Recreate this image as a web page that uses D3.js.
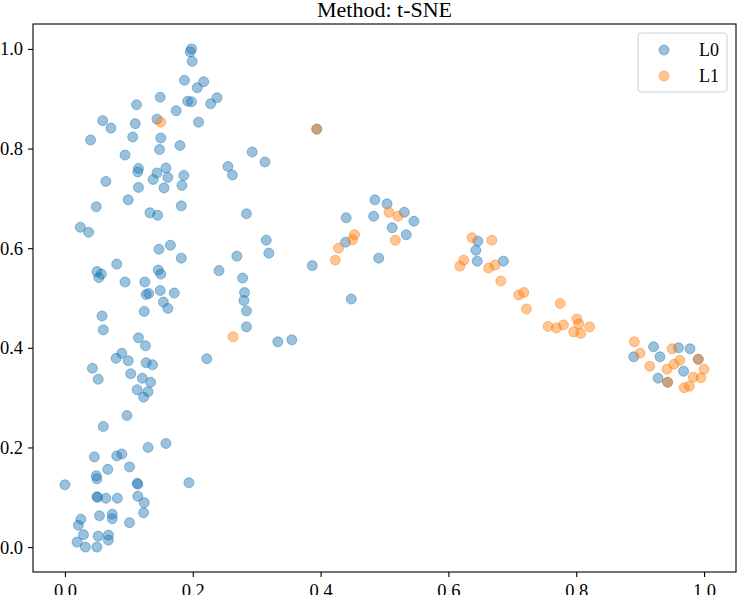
<!DOCTYPE html>
<html>
<head>
<meta charset="utf-8">
<script src="https://cdn.jsdelivr.net/npm/d3@7"></script>
<style>
  body { margin: 0; background: #fff; }
  svg { font-family: "Liberation Serif", "DejaVu Serif", serif; }
</style>
</head>
<body>
<div id="chart"></div>
<script>
// series L0 (blue) as [x, y]
const l0 = [
  [0.198, 1.000], [0.196, 0.994], [0.199, 0.975], [0.187, 0.937], [0.217, 0.934],
  [0.207, 0.922], [0.149, 0.903], [0.238, 0.902], [0.228, 0.890], [0.112, 0.888],
  [0.192, 0.895], [0.198, 0.894], [0.174, 0.876], [0.059, 0.856], [0.072, 0.841],
  [0.110, 0.850], [0.144, 0.859], [0.209, 0.853], [0.040, 0.817], [0.106, 0.823],
  [0.150, 0.821], [0.180, 0.806], [0.148, 0.798], [0.094, 0.787], [0.293, 0.793],
  [0.255, 0.764], [0.262, 0.747], [0.115, 0.760], [0.114, 0.753], [0.158, 0.761],
  [0.144, 0.751], [0.138, 0.738], [0.161, 0.742], [0.186, 0.746], [0.183, 0.726],
  [0.155, 0.721], [0.115, 0.722], [0.064, 0.734], [0.099, 0.697], [0.049, 0.683],
  [0.182, 0.685], [0.133, 0.671], [0.145, 0.666], [0.284, 0.669], [0.024, 0.642],
  [0.037, 0.632], [0.147, 0.598], [0.165, 0.606], [0.182, 0.580], [0.269, 0.584],
  [0.081, 0.568], [0.241, 0.555], [0.050, 0.553], [0.057, 0.548], [0.053, 0.541],
  [0.146, 0.556], [0.150, 0.548], [0.094, 0.532], [0.125, 0.532], [0.278, 0.540],
  [0.149, 0.515], [0.171, 0.510], [0.131, 0.509], [0.127, 0.507], [0.281, 0.511],
  [0.280, 0.495], [0.154, 0.492], [0.161, 0.479], [0.124, 0.473], [0.284, 0.474],
  [0.058, 0.464], [0.060, 0.436], [0.284, 0.442], [0.115, 0.420], [0.126, 0.404],
  [0.222, 0.378], [0.089, 0.389], [0.080, 0.379], [0.099, 0.374], [0.127, 0.370],
  [0.137, 0.366], [0.043, 0.359], [0.052, 0.337], [0.103, 0.348], [0.121, 0.339],
  [0.134, 0.331], [0.113, 0.316], [0.130, 0.312], [0.123, 0.301], [0.097, 0.264],
  [0.060, 0.242], [0.158, 0.208], [0.130, 0.200], [0.046, 0.181], [0.081, 0.183],
  [0.089, 0.187], [0.067, 0.156], [0.101, 0.161], [0.049, 0.143], [0.050, 0.137],
  [0.000, 0.125], [0.113, 0.128], [0.114, 0.126], [0.194, 0.129], [0.050, 0.101],
  [0.051, 0.100], [0.064, 0.098], [0.082, 0.098], [0.114, 0.102], [0.124, 0.089],
  [0.123, 0.069], [0.025, 0.056], [0.021, 0.044], [0.054, 0.063], [0.074, 0.066],
  [0.074, 0.057], [0.101, 0.049], [0.029, 0.025], [0.052, 0.022], [0.068, 0.024],
  [0.068, 0.014], [0.019, 0.010], [0.032, 0.000], [0.050, 0.000], [0.313, 0.773],
  [0.394, 0.839], [0.485, 0.697], [0.504, 0.689], [0.531, 0.672], [0.440, 0.661],
  [0.483, 0.664], [0.546, 0.654], [0.512, 0.641], [0.534, 0.627], [0.315, 0.616],
  [0.319, 0.590], [0.439, 0.612], [0.387, 0.565], [0.491, 0.580], [0.448, 0.498],
  [0.333, 0.412], [0.355, 0.416], [0.646, 0.614], [0.643, 0.596], [0.645, 0.574],
  [0.686, 0.574], [0.890, 0.382], [0.921, 0.402], [0.931, 0.382], [0.960, 0.400],
  [0.978, 0.398], [0.991, 0.377], [0.968, 0.353], [0.928, 0.339], [0.943, 0.331]
];

// series L1 (orange) as [x, y]
const l1 = [
  [0.150, 0.853], [0.394, 0.839], [0.263, 0.422], [0.507, 0.672], [0.521, 0.664],
  [0.453, 0.627], [0.450, 0.617], [0.517, 0.616], [0.428, 0.600], [0.423, 0.576],
  [0.637, 0.621], [0.668, 0.616], [0.624, 0.576], [0.618, 0.564], [0.663, 0.560],
  [0.673, 0.566], [0.682, 0.534], [0.710, 0.506], [0.718, 0.511], [0.722, 0.478],
  [0.775, 0.489], [0.756, 0.443], [0.769, 0.440], [0.780, 0.446], [0.801, 0.458],
  [0.804, 0.448], [0.796, 0.432], [0.807, 0.429], [0.821, 0.442], [0.891, 0.412],
  [0.900, 0.389], [0.950, 0.398], [0.962, 0.375], [0.991, 0.377], [0.915, 0.363],
  [0.942, 0.357], [0.953, 0.367], [1.000, 0.357], [0.983, 0.341], [0.995, 0.340],
  [0.943, 0.331], [0.969, 0.320], [0.977, 0.323]
];

const seriesNames = ["L0", "L1"];
const seriesColors = ["#1f77b4", "#ff7f0e"];
const xTicks = [0.0, 0.2, 0.4, 0.6, 0.8, 1.0];
const yTicks = [0.0, 0.2, 0.4, 0.6, 0.8, 1.0];
const title = "Method: t-SNE";

const width = 738, height = 595;
const margin = { top: 24, right: 2, bottom: 23, left: 33 };

const svg = d3.select("#chart").append("svg")
    .attr("width", width)
    .attr("height", height);

// matplotlib-like 5% padding around the data
const pad = 0.05 * 1.0;
let x = d3.scaleLinear()
    .domain([0 - pad, 1 + pad])
    .range([margin.left, width - margin.right]);
let y = d3.scaleLinear()
    .domain([0 - pad, 1 + pad])
    .range([height - margin.bottom, margin.top]);

const fmt = d3.format(".1f");

let gX = svg.append("g")
    .attr("transform", "translate(0," + (height - margin.bottom) + ")")
    .call(d3.axisBottom(x).tickValues(xTicks).tickFormat(fmt).tickSize(5).tickPadding(7));

let gY = svg.append("g")
    .attr("transform", "translate(" + margin.left + ",0)")
    .call(d3.axisLeft(y).tickValues(yTicks).tickFormat(fmt).tickSize(5).tickPadding(5));

[gX, gY].forEach(function (g) {
    g.select(".domain").remove();
    g.selectAll(".tick line").attr("stroke", "#000").attr("stroke-width", 1.1);
    g.selectAll(".tick text")
        .attr("fill", "#000")
        .style("font-family", "'Liberation Serif', serif")
        .style("font-size", "18.5px");
});

//draw the dots
const series = [l0, l1];
series.forEach(function (data, i) {
    svg.append("g")
        .selectAll("circle")
        .data(data)
        .enter().append("circle")
        .attr("cx", function (d) { return x(d[0]); })
        .attr("cy", function (d) { return y(d[1]); })
        .attr("r", 5)
        .attr("fill", seriesColors[i])
        .attr("fill-opacity", 0.45)
        .attr("stroke", seriesColors[i])
        .attr("stroke-opacity", 0.45)
        .attr("stroke-width", 1);
});

// frame
svg.append("rect")
    .attr("x", margin.left)
    .attr("y", margin.top)
    .attr("width", width - margin.left - margin.right)
    .attr("height", height - margin.top - margin.bottom)
    .attr("fill", "none")
    .attr("stroke", "#000")
    .attr("stroke-width", 1.1);

svg.append("text")
    .attr("x", (margin.left + width - margin.right) / 2)
    .attr("y", 17)
    .attr("text-anchor", "middle")
    .style("font-size", "22px")
    .text(title);

// legend
let legend = svg.append("g").attr("transform", "translate(638,33)");
legend.append("rect")
    .attr("width", 89)
    .attr("height", 59)
    .attr("rx", 3)
    .attr("fill", "#fff")
    .attr("fill-opacity", 0.8)
    .attr("stroke", "#d0d0d0");
seriesNames.forEach(function (name, i) {
    legend.append("circle")
        .attr("cx", 26)
        .attr("cy", 17 + i * 26)
        .attr("r", 5)
        .attr("fill", seriesColors[i])
        .attr("fill-opacity", 0.45)
        .attr("stroke", seriesColors[i])
        .attr("stroke-opacity", 0.45);
    legend.append("text")
        .attr("x", 61)
        .attr("y", 22.7 + i * 26)
        .style("font-size", "18px")
        .text(name);
});
</script>
</body>
</html>
